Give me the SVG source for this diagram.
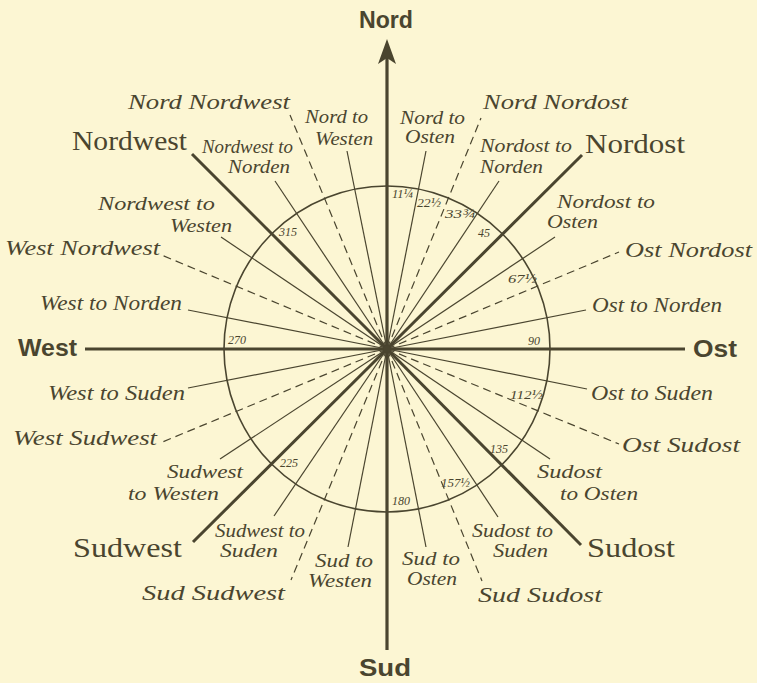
<svg xmlns="http://www.w3.org/2000/svg" width="757" height="683" viewBox="0 0 757 683">
<defs>
<style>
.bg{fill:#fcf6d3}
.thin{stroke:#4a452f;stroke-width:1.2;fill:none}
.dash{stroke:#4a452f;stroke-width:1.2;fill:none;stroke-dasharray:8 5}
.thick{stroke:#4a452f;stroke-width:3;fill:none;stroke-linecap:butt}
.axis{stroke:#4a452f;stroke-width:3.2;fill:none}
.ring{stroke:#4a452f;stroke-width:1.6;fill:none}
text{fill:#4a452f}
.it{font-family:"Liberation Serif","DejaVu Serif",serif;font-style:italic;font-size:21px}
.sm{font-family:"Liberation Serif","DejaVu Serif",serif;font-style:italic;font-size:18px}
.deg{font-family:"Liberation Serif","DejaVu Serif",serif;font-style:italic;font-size:12px}
.rom{font-family:"Liberation Serif","DejaVu Serif",serif;font-size:27px}
.sans{font-family:"Liberation Sans","DejaVu Sans",sans-serif;font-weight:bold;font-size:24px}
</style>
</defs>
<rect class="bg" x="0" y="0" width="757" height="683"/>
<g id="connectors">
<circle class="ring" cx="387" cy="349" r="163"/>
<line class="axis" x1="387" y1="55" x2="387" y2="650"/>
<path d="M387,39 L396,64 L387,58 L378,64 Z" fill="#4a452f"/>
<line class="axis" x1="85" y1="349" x2="685" y2="349"/>
<line class="thick" x1="387" y1="349" x2="192" y2="154"/>
<line class="thick" x1="387" y1="349" x2="582" y2="155"/>
<line class="thick" x1="387" y1="349" x2="581" y2="545"/>
<line class="thick" x1="387" y1="349" x2="193" y2="542"/>
<line class="thin" x1="387" y1="349" x2="426" y2="151"/>
<line class="thin" x1="387" y1="349" x2="499" y2="181"/>
<line class="thin" x1="387" y1="349" x2="555" y2="237"/>
<line class="thin" x1="387" y1="349" x2="586" y2="310"/>
<line class="thin" x1="387" y1="349" x2="587" y2="389"/>
<line class="thin" x1="387" y1="349" x2="550" y2="459"/>
<line class="thin" x1="387" y1="349" x2="498" y2="517"/>
<line class="thin" x1="387" y1="349" x2="426" y2="547"/>
<line class="thin" x1="387" y1="349" x2="348" y2="547"/>
<line class="thin" x1="387" y1="349" x2="274" y2="516"/>
<line class="thin" x1="387" y1="349" x2="220" y2="459"/>
<line class="thin" x1="387" y1="349" x2="188" y2="388"/>
<line class="thin" x1="387" y1="349" x2="188" y2="310"/>
<line class="thin" x1="387" y1="349" x2="221" y2="237"/>
<line class="thin" x1="387" y1="349" x2="275" y2="181"/>
<line class="thin" x1="387" y1="349" x2="347" y2="151"/>
<line class="dash" x1="387" y1="349" x2="481" y2="118"/>
<line class="dash" x1="387" y1="349" x2="619" y2="252"/>
<line class="dash" x1="387" y1="349" x2="619" y2="444"/>
<line class="dash" x1="387" y1="349" x2="482" y2="581"/>
<line class="dash" x1="387" y1="349" x2="291" y2="580"/>
<line class="dash" x1="387" y1="349" x2="160" y2="443"/>
<line class="dash" x1="387" y1="349" x2="159" y2="254"/>
<line class="dash" x1="387" y1="349" x2="290" y2="115"/>
<circle cx="387" cy="349" r="3.5" fill="#4a452f"/>
</g>
<g id="nord"><text class="sans" x="359" y="28" textLength="54" lengthAdjust="spacingAndGlyphs">Nord</text></g>
<g id="sud"><text class="sans" x="359" y="676" textLength="52" lengthAdjust="spacingAndGlyphs">Sud</text></g>
<g id="west"><text class="sans" x="18" y="356" textLength="59" lengthAdjust="spacingAndGlyphs">West</text></g>
<g id="ost"><text class="sans" x="693" y="357" textLength="44" lengthAdjust="spacingAndGlyphs">Ost</text></g>
<g id="nordwest"><text class="rom" x="72" y="150" textLength="115" lengthAdjust="spacingAndGlyphs">Nordwest</text></g>
<g id="nordost"><text class="rom" x="585" y="153" textLength="100" lengthAdjust="spacingAndGlyphs">Nordost</text></g>
<g id="sudwest"><text class="rom" x="73" y="557" textLength="109" lengthAdjust="spacingAndGlyphs">Sudwest</text></g>
<g id="sudost"><text class="rom" x="587" y="557" textLength="88" lengthAdjust="spacingAndGlyphs">Sudost</text></g>
<g id="nnw"><text class="it" x="128" y="109" textLength="162" lengthAdjust="spacingAndGlyphs">Nord Nordwest</text></g>
<g id="nno"><text class="it" x="483" y="109" textLength="145" lengthAdjust="spacingAndGlyphs">Nord Nordost</text></g>
<g id="wnw"><text class="it" x="5" y="255" textLength="155" lengthAdjust="spacingAndGlyphs">West Nordwest</text></g>
<g id="ono"><text class="it" x="625" y="257" textLength="127" lengthAdjust="spacingAndGlyphs">Ost Nordost</text></g>
<g id="wtn"><text class="it" x="40" y="310" textLength="142" lengthAdjust="spacingAndGlyphs">West to Norden</text></g>
<g id="otn"><text class="it" x="592" y="312" textLength="130" lengthAdjust="spacingAndGlyphs">Ost to Norden</text></g>
<g id="wts"><text class="it" x="48" y="400" textLength="137" lengthAdjust="spacingAndGlyphs">West to Suden</text></g>
<g id="ots"><text class="it" x="591" y="400" textLength="122" lengthAdjust="spacingAndGlyphs">Ost to Suden</text></g>
<g id="wsw"><text class="it" x="13" y="445" textLength="144" lengthAdjust="spacingAndGlyphs">West Sudwest</text></g>
<g id="oso"><text class="it" x="622" y="452" textLength="118" lengthAdjust="spacingAndGlyphs">Ost Sudost</text></g>
<g id="ssw"><text class="it" x="142" y="600" textLength="143" lengthAdjust="spacingAndGlyphs">Sud  Sudwest</text></g>
<g id="sso"><text class="it" x="478" y="602" textLength="124" lengthAdjust="spacingAndGlyphs">Sud Sudost</text></g>
<g id="ntw"><text class="sm" x="305" y="123" textLength="63" lengthAdjust="spacingAndGlyphs">Nord to</text><text class="sm" x="315" y="145" textLength="58" lengthAdjust="spacingAndGlyphs">Westen</text></g>
<g id="nto"><text class="sm" x="400" y="124" textLength="65" lengthAdjust="spacingAndGlyphs">Nord to</text><text class="sm" x="405" y="143" textLength="50" lengthAdjust="spacingAndGlyphs">Osten</text></g>
<g id="nwtn"><text class="sm" x="202" y="153" textLength="91" lengthAdjust="spacingAndGlyphs">Nordwest to</text><text class="sm" x="228" y="173" textLength="62" lengthAdjust="spacingAndGlyphs">Norden</text></g>
<g id="notn"><text class="sm" x="480" y="152" textLength="92" lengthAdjust="spacingAndGlyphs">Nordost to</text><text class="sm" x="480" y="173" textLength="63" lengthAdjust="spacingAndGlyphs">Norden</text></g>
<g id="nwtw"><text class="sm" x="98" y="210" textLength="117" lengthAdjust="spacingAndGlyphs">Nordwest  to</text><text class="sm" x="170" y="232" textLength="62" lengthAdjust="spacingAndGlyphs">Westen</text></g>
<g id="noto"><text class="sm" x="557" y="208" textLength="98" lengthAdjust="spacingAndGlyphs">Nordost to</text><text class="sm" x="547" y="228" textLength="51" lengthAdjust="spacingAndGlyphs">Osten</text></g>
<g id="swtw"><text class="sm" x="167" y="478" textLength="76" lengthAdjust="spacingAndGlyphs">Sudwest</text><text class="sm" x="128" y="500" textLength="91" lengthAdjust="spacingAndGlyphs">to Westen</text></g>
<g id="soto"><text class="sm" x="537" y="478" textLength="65" lengthAdjust="spacingAndGlyphs">Sudost</text><text class="sm" x="560" y="500" textLength="78" lengthAdjust="spacingAndGlyphs">to Osten</text></g>
<g id="swts"><text class="sm" x="215" y="537" textLength="90" lengthAdjust="spacingAndGlyphs">Sudwest to</text><text class="sm" x="220" y="557" textLength="58" lengthAdjust="spacingAndGlyphs">Suden</text></g>
<g id="sots"><text class="sm" x="472" y="537" textLength="81" lengthAdjust="spacingAndGlyphs">Sudost to</text><text class="sm" x="493" y="557" textLength="55" lengthAdjust="spacingAndGlyphs">Suden</text></g>
<g id="stw"><text class="sm" x="315" y="567" textLength="58" lengthAdjust="spacingAndGlyphs">Sud to</text><text class="sm" x="308" y="587" textLength="64" lengthAdjust="spacingAndGlyphs">Westen</text></g>
<g id="sto"><text class="sm" x="402" y="565" textLength="58" lengthAdjust="spacingAndGlyphs">Sud to</text><text class="sm" x="407" y="585" textLength="50" lengthAdjust="spacingAndGlyphs">Osten</text></g>
<g id="degrees">
<text class="deg" x="392" y="198" textLength="21" lengthAdjust="spacingAndGlyphs">11¼</text>
<text class="deg" x="417" y="207" textLength="24" lengthAdjust="spacingAndGlyphs">22½</text>
<text class="deg" x="445" y="218" textLength="30" lengthAdjust="spacingAndGlyphs">33¾</text>
<text class="deg" x="478" y="237">45</text>
<text class="deg" x="508" y="283" textLength="29" lengthAdjust="spacingAndGlyphs">67½</text>
<text class="deg" x="528" y="345">90</text>
<text class="deg" x="510" y="399" textLength="33" lengthAdjust="spacingAndGlyphs">112½</text>
<text class="deg" x="490" y="453">135</text>
<text class="deg" x="441" y="487" textLength="29" lengthAdjust="spacingAndGlyphs">157½</text>
<text class="deg" x="392" y="505">180</text>
<text class="deg" x="280" y="467">225</text>
<text class="deg" x="228" y="344">270</text>
<text class="deg" x="279" y="236">315</text>
</g>
</svg>
